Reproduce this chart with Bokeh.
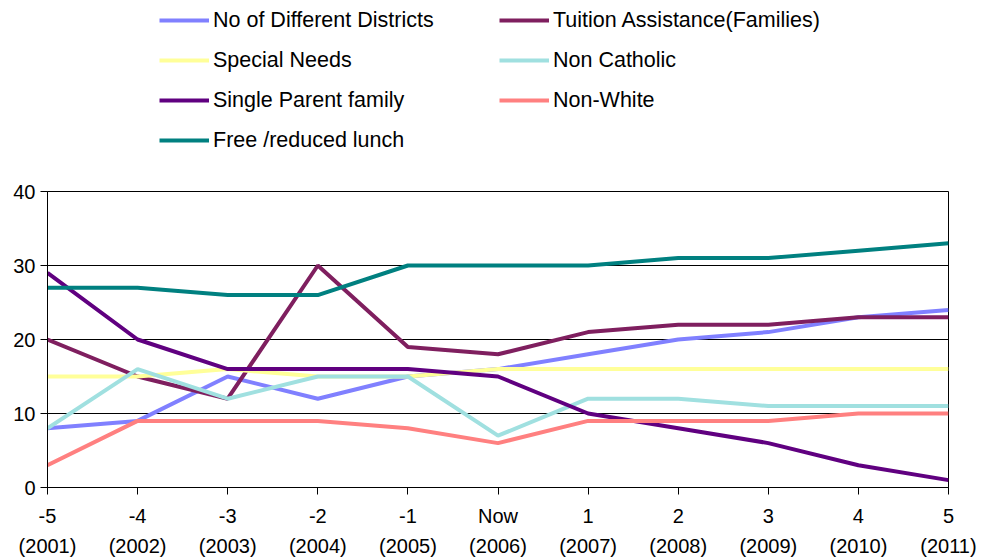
from bokeh.plotting import figure
from bokeh.models import Legend, LegendItem, FixedTicker, Range1d
from bokeh.layouts import column
from bokeh.embed import file_html
from bokeh.resources import INLINE

x_vals = [-5, -4, -3, -2, -1, 0, 1, 2, 3, 4, 5]
x_labels = ["-5\n(2001)", "-4\n(2002)", "-3\n(2003)", "-2\n(2004)", "-1\n(2005)",
            "Now\n(2006)", "1\n(2007)", "2\n(2008)", "3\n(2009)", "4\n(2010)", "5\n(2011)"]

districts = [8, 9, 15, 12, 15, 16, 18, 20, 21, 23, 24]
tuition = [20, 15, 12, 30, 19, 18, 21, 22, 22, 23, 23]
special_needs = [15, 15, 16, 15, 15, 16, 16, 16, 16, 16, 16]
non_catholic = [8, 16, 12, 15, 15, 7, 12, 12, 11, 11, 11]
single_parent = [29, 20, 16, 16, 16, 15, 10, 8, 6, 3, 1]
non_white = [3, 9, 9, 9, 8, 6, 9, 9, 9, 10, 10]
free_lunch = [27, 27, 26, 26, 30, 30, 30, 31, 31, 32, 33]

series = [
    ("No of Different Districts", districts, "#8080FF"),
    ("Tuition Assistance(Families)", tuition, "#7F1F5F"),
    ("Special Needs", special_needs, "#FFFF99"),
    ("Non Catholic", non_catholic, "#A0E0E0"),
    ("Single Parent family", single_parent, "#600080"),
    ("Non-White", non_white, "#FF8080"),
    ("Free /reduced lunch", free_lunch, "#008080"),
]

# ---- legend strip (top) ----
top = figure(width=981, height=171, output_backend="svg", toolbar_location=None,
             x_range=Range1d(100, 101), y_range=Range1d(100, 101),
             x_axis_location=None, y_axis_location=None,
             min_border_left=0, min_border_right=0, min_border_top=0, min_border_bottom=0)
top.outline_line_color = None
top.xgrid.grid_line_color = None
top.ygrid.grid_line_color = None
top.background_fill_color = "white"
top.border_fill_color = "white"

# ---- chart (bottom) ----
p = figure(width=981, height=389, output_backend="svg", toolbar_location=None,
           x_range=Range1d(-5, 5), y_range=Range1d(0, 40),
           min_border_left=47, min_border_right=33, min_border_top=20, min_border_bottom=69)
p.background_fill_color = "white"
p.border_fill_color = "white"
p.outline_line_color = "black"
p.outline_line_width = 1

items = []
for name, vals, color in series:
    p.line(x_vals, vals, line_color=color, line_width=4)
    r_leg = top.line(x_vals, vals, line_color=color, line_width=4)
    items.append(LegendItem(label=name, renderers=[r_leg]))

p.xgrid.grid_line_color = None
p.ygrid.grid_line_color = "black"
p.ygrid.grid_line_width = 1
p.ygrid.ticker = FixedTicker(ticks=[0, 10, 20, 30, 40])

p.yaxis.ticker = FixedTicker(ticks=[0, 10, 20, 30, 40])
p.xaxis.ticker = FixedTicker(ticks=x_vals)
p.xaxis.major_label_overrides = {v: l for v, l in zip(x_vals, x_labels)}

for ax in (p.xaxis[0], p.yaxis[0]):
    ax.axis_line_color = "black"
    ax.axis_line_width = 1
    ax.major_tick_line_color = "black"
    ax.major_tick_in = 0
    ax.major_tick_out = 7
    ax.minor_tick_line_color = None
    ax.major_label_text_font = "Liberation Sans"
    ax.major_label_text_font_size = "20px"
    ax.major_label_text_color = "black"

p.yaxis.major_label_standoff = 5
p.xaxis.major_label_standoff = 10
p.xaxis.major_label_text_line_height = 1.4

legend = Legend(items=items, location=(112, 11), ncols=2, orientation="horizontal")
legend.padding = 0
legend.margin = 0
legend.spacing = 0
legend.border_line_color = None
legend.background_fill_alpha = 0
legend.glyph_width = 50
legend.glyph_height = 40
legend.label_height = 40
legend.label_width = 286
legend.label_standoff = 4
legend.label_text_font = "Liberation Sans"
legend.label_text_font_size = "21.5px"
legend.label_text_color = "black"
top.add_layout(legend, "center")

layout = column(top, p, spacing=0)
open("out.html", "w").write(file_html(layout, INLINE))
